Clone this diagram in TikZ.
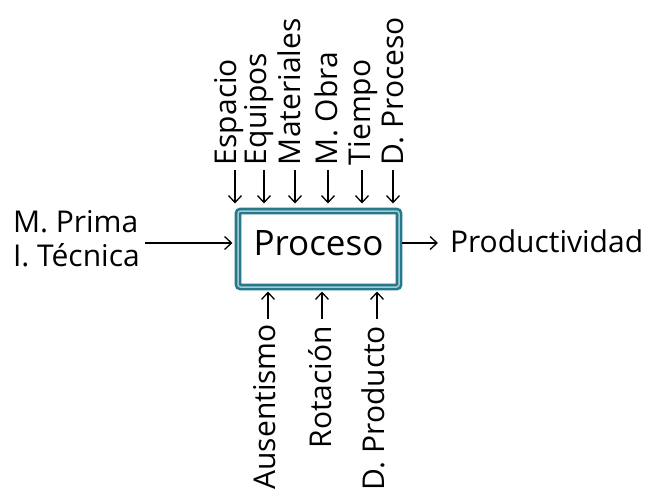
\documentclass[tikz,border=0pt]{standalone}
\usepackage{fontspec}
\setmainfont{Open Sans}
\usetikzlibrary{arrows.meta}
\definecolor{tealdark}{HTML}{26788A}
\definecolor{teallight}{HTML}{9FCDD8}
\begin{document}
\begin{tikzpicture}[x=1pt,y=-1pt,
  lbl/.style={inner sep=0pt, outer sep=0pt, font=\fontsize{30}{34}\selectfont},
  toplbl/.style={lbl, rotate=90, anchor=base west},
  botlbl/.style={lbl, rotate=90, anchor=base east},
  arr/.style={-{Straight Barb[length=7pt,width=13pt]}, line width=1.3pt},
  procbox/.style={draw=tealdark, double=teallight, line width=2.6pt,
    double distance=1.5pt, rounded corners=2.5pt, minimum width=161pt,
    minimum height=76pt, inner sep=0pt, outer sep=0pt,
    font=\fontsize{35}{40}\selectfont, text depth=12pt}
]
\useasboundingbox (0,0) rectangle (648,496);

% process box
\node[procbox] (box) at (318.5,249) {Proceso};

% inputs and output
\node[lbl, align=left, anchor=west] (inp) at (13,239) {M. Prima\\I. Técnica};
\node[lbl, anchor=base west] (out) at (450,252) {Productividad};
\coordinate (ain) at (145,243);
\coordinate (aout) at (438,243);
\draw[arr, shorten >=5.5pt] (ain) -- (ain -| box.west);
\draw[arr, shorten <=3.3pt] (aout -| box.east) -- (aout);

% top labels
\node[toplbl] (esp) at (236,165) {Espacio};
\node[toplbl] (equ) at (266,165) {Equipos};
\node[toplbl] (mat) at (300,165) {Materiales};
\node[toplbl] (mob) at (337,165) {M. Obra};
\node[toplbl] (tie) at (370,165) {Tiempo};
\node[toplbl] (dpr) at (403,165) {D. Proceso};

\coordinate (t1) at (235,170);
\coordinate (t2) at (264,170);
\coordinate (t3) at (295,170);
\coordinate (t4) at (328,170);
\coordinate (t5) at (362,170);
\coordinate (t6) at (393,170);
\foreach \c in {t1,t2,t3,t4,t5,t6}
  \draw[arr, shorten >=7.5pt] (\c) -- (\c |- box.north);

% bottom labels
\node[botlbl] (aus) at (275,324) {Ausentismo};
\node[botlbl] (rot) at (331,326) {Rotación};
\node[botlbl] (dpd) at (384,326) {D. Producto};

\coordinate (b1) at (268,319);
\coordinate (b2) at (322,319);
\coordinate (b3) at (377,319);
\foreach \c in {b1,b2,b3}
  \draw[arr, shorten >=4.5pt] (\c) -- (\c |- box.south);
\end{tikzpicture}
\end{document}
